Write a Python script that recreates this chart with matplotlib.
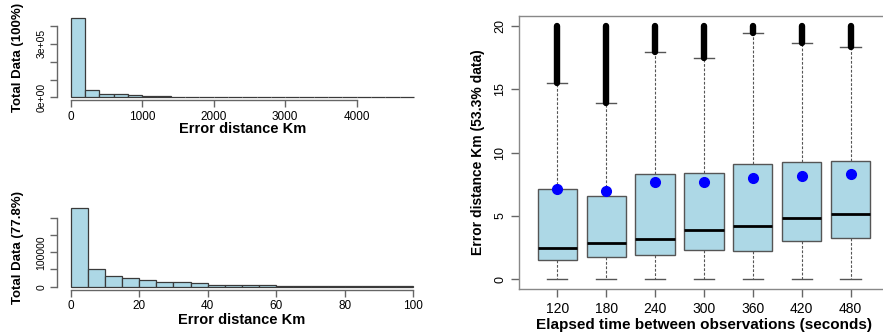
import numpy as np
import matplotlib.pyplot as plt

plt.rcParams['font.family'] = ['Liberation Sans', 'DejaVu Sans']

# histogram 1: all data, bins of 200 km
bins_all = np.arange(0, 4801, 200)
counts_all = [444000, 41000, 17000, 16000, 14000, 10000, 9000, 2000,
              1500, 1500, 2500, 3000, 2500, 1500, 800, 500,
              400, 300, 300, 300, 200, 200, 200, 200]

# histogram 2: data below 100 km, bins of 5 km
bins_100 = np.arange(0, 101, 5)
counts_100 = [227000, 50000, 32000, 26000, 19400, 12700, 13500, 9500,
              6000, 4500, 3500, 3500, 2500, 2500, 1500, 1500,
              1200, 1200, 1000, 1000]

# boxplot stats per elapsed time
elapsed = ['120', '180', '240', '300', '360', '420', '480']
q1 = [1.52, 1.73, 1.89, 2.31, 2.26, 3.0, 3.28]
med = [2.5, 2.86, 3.2, 3.86, 4.18, 4.83, 5.17]
q3 = [7.1, 6.6, 8.3, 8.4, 9.09, 9.27, 9.3]
whislo = [0, 0, 0, 0, 0, 0, 0]
whishi = [15.46, 13.93, 17.95, 17.48, 19.4, 18.66, 18.35]
means = [7.15, 6.95, 7.7, 7.7, 7.96, 8.17, 8.3]
outlier_max = [20, 20, 20, 20, 20, 20, 20]

W, H = 883, 336
fig = plt.figure(figsize=(W / 100, H / 100), dpi=100)

def px_axes(left, top, right, bottom):
    return fig.add_axes([left / W, 1 - bottom / H, (right - left) / W, (bottom - top) / H])

fill = '#add8e6'
edge = '#3a3a3a'
axcol = '#666666'

def hist_panel(ax, bins, counts, xticks, yticks, ylabels, ylab, xlabel_y, ylab_x):
    w = bins[1] - bins[0]
    ax.bar(bins[:-1], counts, width=w, align='edge', color=fill, edgecolor=edge, linewidth=0.9)
    m = max(counts)
    span = bins[-1] - bins[0]
    ax.set_xlim(bins[0] - 0.04 * span, bins[-1] + 0.04 * span)
    ax.set_ylim(-0.04 * m, 1.04 * m)
    for s in ['top', 'right']:
        ax.spines[s].set_visible(False)
    ax.spines['bottom'].set_bounds(xticks[0], xticks[-1])
    ax.spines['left'].set_bounds(yticks[0], yticks[-1])
    for s in ['bottom', 'left']:
        ax.spines[s].set_color(axcol)
        ax.spines[s].set_linewidth(1.0)
    ax.set_xticks(xticks)
    ax.set_xticklabels([str(v) for v in xticks], fontsize=8.5)
    ax.set_yticks(yticks)
    ax.set_yticklabels(ylabels, fontsize=7.5, rotation=90, va='center')
    ax.tick_params(length=5, width=1.0, color=axcol, pad=2.5)
    ax.set_xlabel('Error distance Km', fontsize=10.5, fontweight='bold')
    ax.xaxis.set_label_coords(0.5, xlabel_y)
    ax.xaxis.label.set_va('center')
    ax.set_ylabel(ylab, fontsize=9.5, fontweight='bold')
    ax.yaxis.set_label_coords(ylab_x, 0.5)
    ax.yaxis.label.set_va('center')

ax1 = px_axes(57, 15.1, 427.6, 100.5)
hist_panel(ax1, bins_all, counts_all, [0, 1000, 2000, 3000, 4000],
           [0, 100000, 200000, 300000, 400000], ['0e+00', '', '', '3e+05', ''],
           'Total Data (100%)', (100.5 - 129.5) / 85.4, (18 - 57) / 370.6)

ax2 = px_axes(57, 205.3, 427, 289.8)
hist_panel(ax2, bins_100, counts_100, [0, 20, 40, 60, 80, 100],
           [0, 50000, 100000, 150000, 200000], ['0', '', '100000', '', ''],
           'Total Data (77.8%)', (289.8 - 319.5) / 84.5, (18 - 57) / 370)

# boxplot panel
ax3 = px_axes(519, 15.6, 888.9, 289.4)
pos = np.arange(1, len(elapsed) + 1)
stats = []
for i in range(len(elapsed)):
    stats.append(dict(med=med[i], q1=q1[i], q3=q3[i], whislo=whislo[i],
                      whishi=whishi[i], fliers=[]))
ax3.bxp(stats, positions=pos, widths=0.8, capwidths=0.42, patch_artist=True,
        boxprops=dict(facecolor=fill, edgecolor='#555555', linewidth=1.0),
        medianprops=dict(color='black', linewidth=2.0),
        whiskerprops=dict(color='#555555', linewidth=0.8, linestyle=(0, (2.5, 1.5))),
        capprops=dict(color='#555555', linewidth=1.0))
ax3.vlines(pos, whishi, outlier_max, color='black', linewidth=4.6, capstyle='round', zorder=3)
ax3.plot(pos, means, 'o', color='blue', markersize=7, zorder=4)
ax3.set_xlim(0.22, 7.78)
ax3.set_ylim(-0.8, 20.8)
ax3.set_xticks(pos)
ax3.set_xticklabels(elapsed, fontsize=10)
ax3.set_yticks([0, 5, 10, 15, 20])
ax3.set_yticklabels(['0', '5', '10', '15', '20'], fontsize=9, rotation=90, va='center')
ax3.tick_params(length=6, width=1.0, color=axcol, pad=3)
for s in ax3.spines.values():
    s.set_color('#888888')
    s.set_linewidth(1.0)
ax3.set_xlabel('Elapsed time between observations (seconds)', fontsize=11, fontweight='bold')
ax3.xaxis.set_label_coords(0.5, (289.4 - 325.5) / 273.8)
ax3.xaxis.label.set_va('center')
ax3.set_ylabel('Error distance Km (53.3% data)', fontsize=10, fontweight='bold')
ax3.yaxis.set_label_coords((478 - 519) / 369.9, 0.5)
ax3.yaxis.label.set_va('center')

fig.savefig('out.png', dpi=100)
